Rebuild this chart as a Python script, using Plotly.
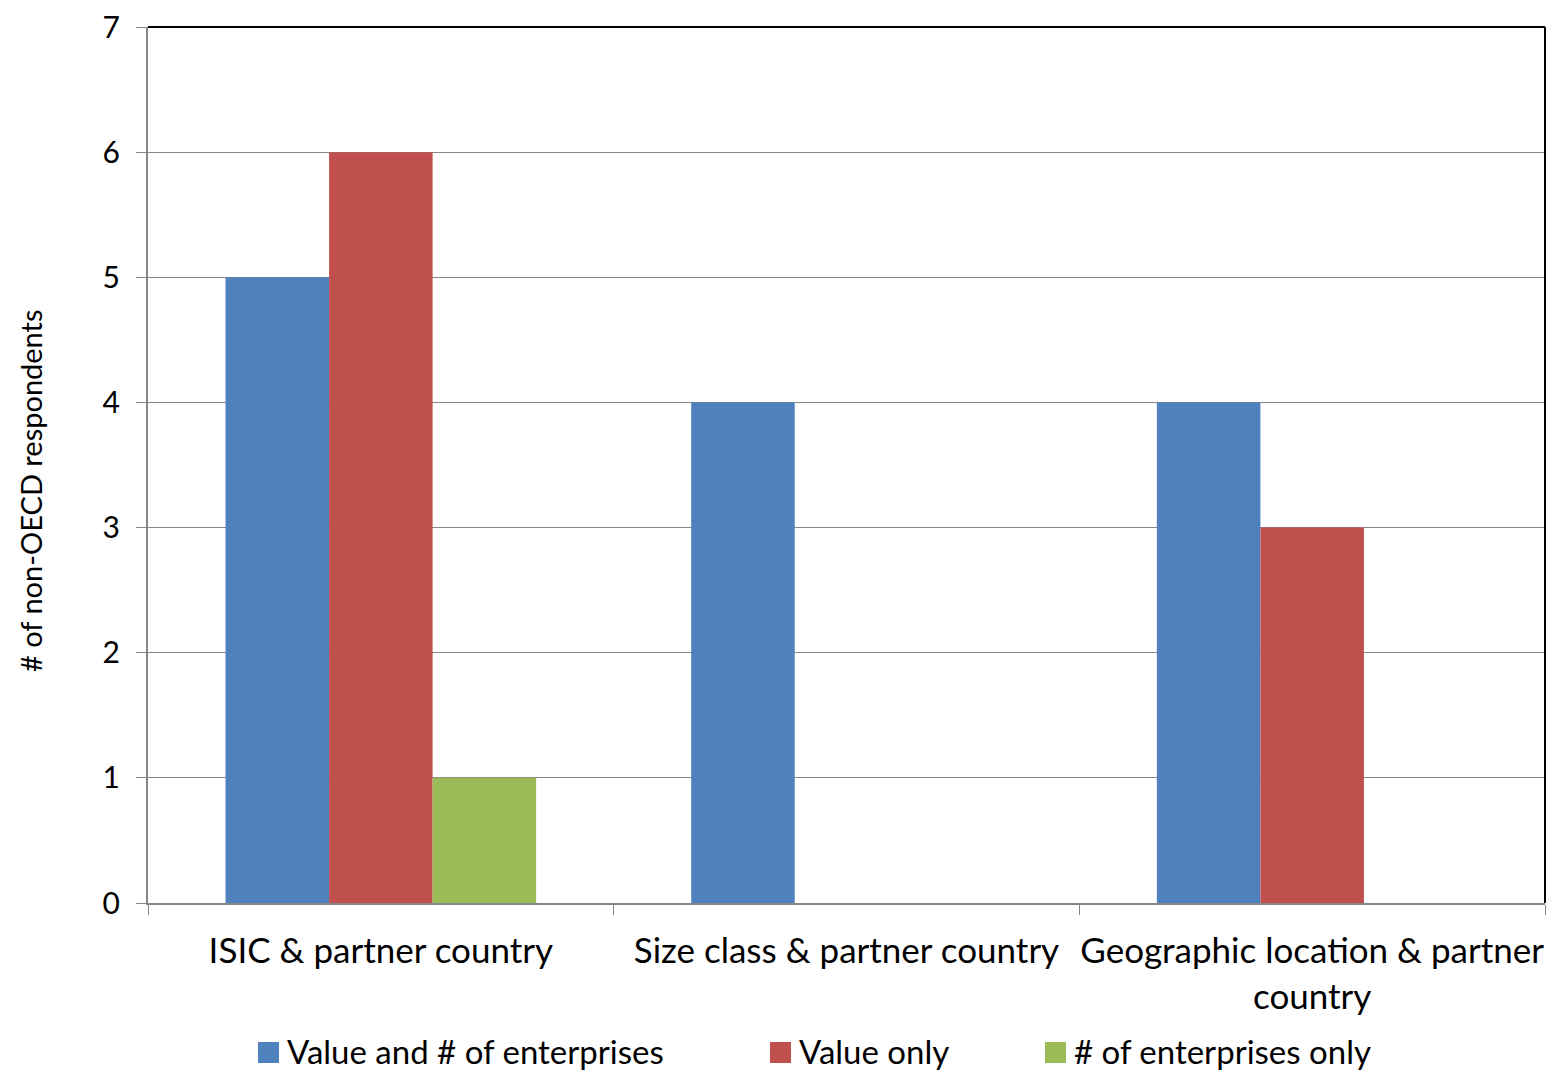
import plotly.graph_objects as go

categories = ["ISIC & partner country", "Size class & partner country",
              "Geographic location & partner<br>country"]
series_names = ["Value and # of enterprises", "Value only", "# of enterprises only"]
value_and_number = [5, 4, 4]
value_only = [6, 0, 3]
number_only = [1, 0, 0]
series_values = [value_and_number, value_only, number_only]
colors = ["#4F81BD", "#C0504D", "#9BBB59"]
y_ticks = [0, 1, 2, 3, 4, 5, 6, 7]

FONT = "Lato"
OFF = 8  # page body margin
W, H = 1555 - 2 * OFF, 1080 - 2 * OFF
# target plot area in screen pixels
PX0, PX1, PY0, PY1 = 148, 1545, 27, 903
L, T = PX0 - OFF, PY0 - OFF
pw, ph = PX1 - PX0, PY1 - PY0
R = W - L - pw
B = H - T - ph


def paper_x(px):
    return (px - PX0) / pw


def paper_y(py):
    return 1 - (py - PY0) / ph


fig = go.Figure()
for name, vals, col in zip(series_names, series_values, colors):
    fig.add_trace(go.Bar(x=categories, y=vals, name=name, marker_color=col,
                         marker_line_width=0, showlegend=False))

# manual legend
legend_x_px = [258, 770, 1045]
legend_y_px = 1051
shapes = []
annotations = []
for name, col, px in zip(series_names, colors, legend_x_px):
    shapes.append(dict(type="rect", xref="paper", yref="paper",
                       x0=paper_x(px), x1=paper_x(px + 21),
                       y0=paper_y(legend_y_px + 12), y1=paper_y(legend_y_px - 9),
                       fillcolor=col, line_width=0))
    annotations.append(dict(text=name, xref="paper", yref="paper",
                            x=paper_x(px + 27), y=paper_y(legend_y_px),
                            xanchor="left", yanchor="middle",
                            showarrow=False, font=dict(family=FONT, size=33, color="black")))

# top and right borders
shapes.append(dict(type="line", xref="paper", yref="paper", x0=0, x1=1, y0=1, y1=1,
                   line=dict(color="black", width=2)))
shapes.append(dict(type="line", xref="paper", yref="paper", x0=1, x1=1, y0=0, y1=1,
                   line=dict(color="black", width=2)))

# y-axis title
annotations.append(dict(text="# of non-OECD respondents", xref="paper", yref="paper",
                        x=paper_x(30), y=paper_y(491), textangle=-90,
                        xanchor="center", yanchor="middle", showarrow=False,
                        font=dict(family=FONT, size=29, color="black")))

fig.update_layout(
    width=W, height=H,
    margin=dict(l=L, r=R, t=T, b=B, autoexpand=False),
    paper_bgcolor="white", plot_bgcolor="white",
    barmode="group", bargap=0.333, bargroupgap=0,
    font=dict(family=FONT, color="black"),
    shapes=shapes, annotations=annotations, showlegend=False,
)
fig.update_xaxes(
    showline=True, linecolor="#868686", linewidth=2,
    ticks="outside", tickson="boundaries", ticklen=10, tickcolor="#868686", tickwidth=1,
    tickfont=dict(family=FONT, size=35, color="black"), showgrid=False,
    tickangle=0, ticklabelstandoff=16, ticklabeloverflow="allow",
)
fig.update_yaxes(
    range=[0, 7], tickvals=y_ticks, showline=True, linecolor="#868686", linewidth=2,
    ticks="outside", ticklen=10, tickcolor="#868686", tickwidth=1,
    showgrid=True, gridcolor="#868686", gridwidth=1, zeroline=False,
    tickfont=dict(family=FONT, size=30, color="black"), ticklabelstandoff=10,
    ticklabeloverflow="allow",
)

fig.write_html("out.html")
